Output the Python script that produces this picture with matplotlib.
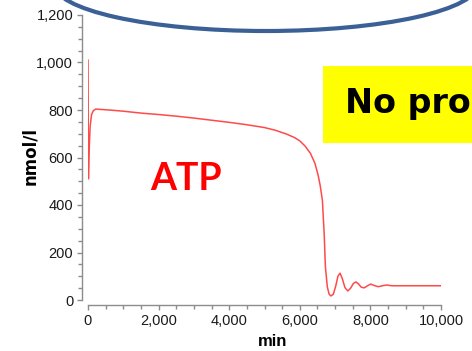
import matplotlib
matplotlib.use("Agg")
import matplotlib.pyplot as plt
from matplotlib.patches import Ellipse, Rectangle
from matplotlib.ticker import FuncFormatter, MultipleLocator

# ATP concentration over time
time_min = [0, 12, 30, 60, 100, 150, 220, 300, 600, 1000, 1500, 2000, 2500,
            3000, 3500, 4000, 4500, 5000, 5300, 5600, 5850, 6000, 6150, 6300,
            6430, 6520, 6580, 6640, 6690, 6725, 6780, 6830, 6880, 6950, 7020,
            7080, 7140, 7200, 7280, 7360, 7440, 7520, 7590, 7660, 7740, 7820,
            7920, 8010, 8110, 8220, 8340, 8470, 8600, 9000, 10000]
atp_nmol_l = [1010, 510, 620, 730, 780, 797, 804, 803, 800, 795, 787, 781, 774,
              766, 757, 748, 738, 726, 715, 700, 684, 670, 648, 618,
              575, 525, 480, 420, 280, 140, 55, 25, 17, 24, 60,
              100, 113, 92, 52, 38, 50, 70, 76, 68, 54, 51,
              60, 67, 61, 56, 60, 63, 60, 60, 60]

x_ticks = [0, 2000, 4000, 6000, 8000, 10000]
y_ticks = [0, 200, 400, 600, 800, 1000, 1200]

W, H = 472, 351
fig = plt.figure(figsize=(W / 100, H / 100), dpi=100)
fig.patch.set_facecolor("white")

tick_font = ["Liberation Sans", "DejaVu Sans"]

ax = fig.add_axes([88 / W, 1 - 300 / H, 353 / W, 285 / H])
ax.plot(time_min, atp_nmol_l, color="#ff2a2a", lw=1.1, alpha=0.85,
        solid_joinstyle="round")
ax.set_xlim(0, 10000)
ax.set_ylim(0, 1200)
ax.set_xticks(x_ticks)
ax.set_yticks(y_ticks)
ax.xaxis.set_minor_locator(MultipleLocator(500))
ax.yaxis.set_minor_locator(MultipleLocator(50))
fmt = FuncFormatter(lambda v, p: f"{v:,.0f}")
ax.xaxis.set_major_formatter(fmt)
ax.yaxis.set_major_formatter(fmt)

for s in ("top", "right"):
    ax.spines[s].set_visible(False)
axis_grey = "#8c8c8c"
ax.spines["left"].set_position(("outward", 4.3))
ax.spines["bottom"].set_position(("outward", 3.6))
ax.spines["left"].set_bounds(0, 1200)
ax.spines["bottom"].set_bounds(0, 10000)
for s in ("left", "bottom"):
    ax.spines[s].set_color(axis_grey)
    ax.spines[s].set_linewidth(1.0)
ax.tick_params(which="both", color=axis_grey, width=1.0, labelcolor="#1a1a1a")
ax.tick_params(which="major", length=3.6, pad=2.8)
ax.tick_params(which="minor", length=3.0)
for lab in ax.get_xticklabels() + ax.get_yticklabels():
    lab.set_family(tick_font)
    lab.set_fontsize(10.5)

fig.text(273 / W, 1 - 342 / H, "min", ha="center", va="center",
         fontsize=12, fontweight="bold", family=tick_font)
fig.text(30 / W, 1 - 156 / H, "nmol/l", ha="center", va="center",
         rotation=90, fontsize=12, fontweight="bold",
         family=["DejaVu Sans"])

# annotation label on the curve
fig.text(186 / W, 1 - 179 / H, "ATP", ha="center", va="center",
         color="#ff0000", fontsize=27, fontweight="bold",
         family=["Lato", "DejaVu Sans"])

# yellow banner at the right edge
fig.patches.append(Rectangle((323 / W, 1 - 143 / H), (W - 323) / W, 77 / H,
                             transform=fig.transFigure, facecolor="#ffff00",
                             edgecolor="none", zorder=0))
fig.text(345 / W, 1 - 104 / H, "No pro", ha="left", va="center",
         color="black", fontsize=24, fontweight="bold",
         family=["DejaVu Sans"])

# blue outline arc along the top
fig.patches.append(Ellipse((266 / W, 1 + 16 / H), 424 / W, 94 / H,
                           transform=fig.transFigure, facecolor="none",
                           edgecolor="#3b6096", lw=3.0))

fig.savefig("out.png", dpi=100)
